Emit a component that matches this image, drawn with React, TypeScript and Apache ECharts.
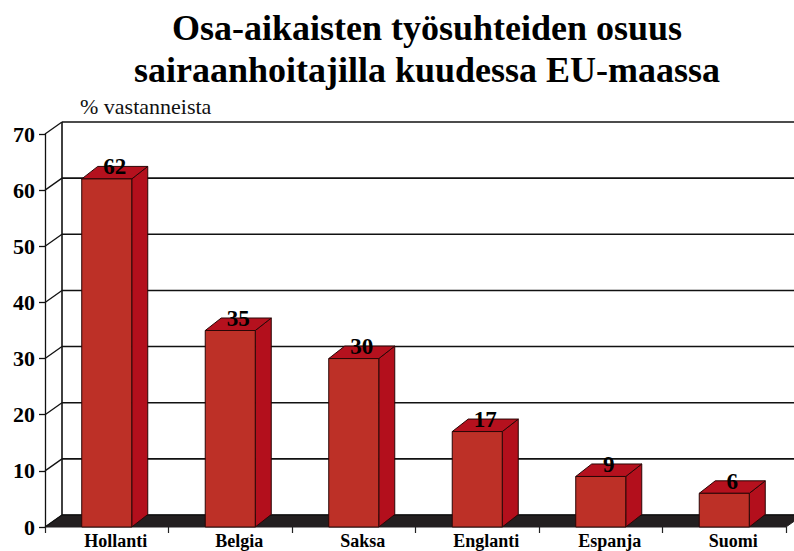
import React, { useEffect, useRef } from "react";
import * as echarts from "echarts";

const categories = ["Hollanti", "Belgia", "Saksa", "Englanti", "Espanja", "Suomi"];
const values = [62, 35, 30, 17, 9, 6];
const yTicks = [0, 10, 20, 30, 40, 50, 60, 70];
const titleLines = ["Osa-aikaisten työsuhteiden osuus", "sairaanhoitajilla kuudessa EU-maassa"];
const unitLabel = "% vastanneista";

const SERIF = "Liberation Serif";
const WALL_DX = 17;
const WALL_DY = -12;
const BAR_DX = 16;
const BAR_DY = -12.5;

export default function App() {
  const ref = useRef<HTMLDivElement>(null);
  useEffect(() => {
    if (!ref.current) return;
    const chart = echarts.init(ref.current, null, { renderer: "svg" });
    const option: any = {
      animation: false,
      backgroundColor: "#ffffff",
      title: {
        text: titleLines.join("\n"),
        left: 422,
        top: 2,
        textAlign: "center",
        textStyle: {
          fontFamily: SERIF,
          fontWeight: "bold",
          fontSize: 36,
          lineHeight: 42,
          color: "#000",
        },
      },
      graphic: [
        {
          type: "text",
          left: 80,
          top: 95,
          style: { text: unitLabel, fontFamily: SERIF, fontSize: 22, fill: "#111" },
        },
      ],
      grid: { left: 45, right: 8, top: 134, bottom: 24, containLabel: false },
      xAxis: {
        type: "category",
        data: categories,
        boundaryGap: true,
        axisLine: { show: false },
        axisTick: { show: true, length: 6, lineStyle: { color: "#222", width: 1.2 } },
        axisLabel: {
          margin: 5,
          fontFamily: SERIF,
          fontWeight: "bold",
          fontSize: 18,
          color: "#000",
          padding: [0, 0, 0, 18],
        },
        splitLine: { show: false },
      },
      yAxis: {
        type: "value",
        min: 0,
        max: 70,
        interval: 10,
        axisLine: { show: true, lineStyle: { color: "#111", width: 1.3 } },
        axisTick: { show: true, length: 6, lineStyle: { color: "#111", width: 1.3 } },
        axisLabel: {
          margin: 10,
          fontFamily: SERIF,
          fontWeight: "bold",
          fontSize: 22,
          color: "#000",
        },
        splitLine: { show: false },
      },
      series: [
        {
          type: "custom",
          name: "walls",
          silent: true,
          z: 1,
          data: yTicks.map((t) => [0, t]),
          renderItem: (params: any, api: any) => {
            const cs = params.coordSys;
            const v = api.value(1);
            const p = api.coord([0, v]);
            const x0 = cs.x;
            const y = p[1];
            const children: any[] = [
              {
                type: "line",
                shape: { x1: x0 + WALL_DX, y1: y + WALL_DY, x2: x0 + cs.width + WALL_DX + 20, y2: y + WALL_DY },
                style: { stroke: "#111", lineWidth: 1.6 },
              },
              {
                type: "line",
                shape: { x1: x0, y1: y, x2: x0 + WALL_DX, y2: y + WALL_DY },
                style: { stroke: "#111", lineWidth: 1.3 },
              },
            ];
            if (params.dataIndex === 0) {
              const top = api.coord([0, 70])[1];
              children.unshift({
                type: "polygon",
                shape: {
                  points: [
                    [x0, y],
                    [x0 + cs.width, y],
                    [x0 + cs.width + WALL_DX, y + WALL_DY],
                    [x0 + WALL_DX, y + WALL_DY],
                  ],
                },
                style: { fill: "#231f20", stroke: "#231f20", lineWidth: 1 },
              });
              children.push({
                type: "line",
                shape: { x1: x0 + WALL_DX, y1: top + WALL_DY, x2: x0 + WALL_DX, y2: y + WALL_DY },
                style: { stroke: "#111", lineWidth: 1.6 },
              });
            }
            return { type: "group", children };
          },
        },
        {
          type: "custom",
          name: "bars",
          z: 3,
          data: values.map((v, i) => [i, v]),
          renderItem: (params: any, api: any) => {
            const i = api.value(0);
            const v = api.value(1);
            const base = api.coord([i, 0]);
            const top = api.coord([i, v]);
            const bw = api.size([1, 0])[0] * 0.405;
            const xl = base[0] - bw / 2;
            const xr = base[0] + bw / 2;
            const yb = base[1];
            const yt = top[1];
            const edge = "#2a0606";
            return {
              type: "group",
              children: [
                {
                  type: "polygon",
                  shape: {
                    points: [
                      [xr, yb],
                      [xr + BAR_DX, yb + BAR_DY],
                      [xr + BAR_DX, yt + BAR_DY],
                      [xr, yt],
                    ],
                  },
                  style: { fill: "#b30f1c", stroke: edge, lineWidth: 1 },
                },
                {
                  type: "polygon",
                  shape: {
                    points: [
                      [xl, yt],
                      [xr, yt],
                      [xr + BAR_DX, yt + BAR_DY],
                      [xl + BAR_DX, yt + BAR_DY],
                    ],
                  },
                  style: { fill: "#b5111e", stroke: edge, lineWidth: 1 },
                },
                {
                  type: "rect",
                  shape: { x: xl, y: yt, width: bw, height: yb - yt },
                  style: { fill: "#bd3027", stroke: edge, lineWidth: 1 },
                },
                {
                  type: "text",
                  style: {
                    text: String(v),
                    x: base[0] + BAR_DX / 2,
                    y: yt - 12,
                    align: "center",
                    verticalAlign: "middle",
                    fontFamily: SERIF,
                    fontWeight: "bold",
                    fontSize: 23,
                    fill: "#000",
                  },
                },
              ],
            };
          },
        },
      ],
    };
    chart.setOption(option);
    return () => chart.dispose();
  }, []);
  return <div ref={ref} style={{ width: 794, height: 551, position: "absolute", left: 0, top: 0 }} />;
}
